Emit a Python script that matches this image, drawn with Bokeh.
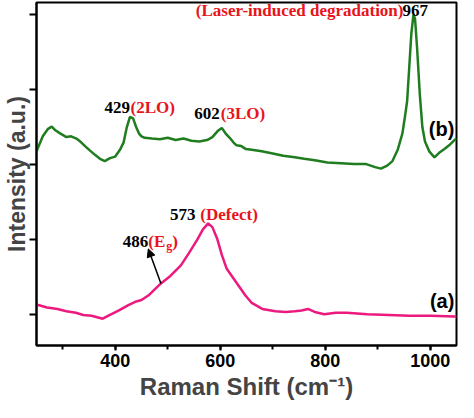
from bokeh.plotting import figure
from bokeh.models import Range1d, FixedTicker, SingleIntervalTicker, Label, Arrow, NormalHead
from bokeh.embed import file_html
from bokeh.resources import INLINE

# ---- data ----
green_x = [250, 262, 272, 279, 286, 295, 307, 316, 326, 335, 344, 352, 362, 371, 380, 390, 400,
           409, 416, 422, 428, 434, 440, 445, 450, 456, 470, 485, 500, 515, 530, 545, 560, 575,
           585, 595, 603, 610, 618, 625, 631, 640, 649, 660, 679, 700, 720, 742, 760, 780, 804,
           830, 855, 878, 895, 906, 918, 928, 938, 947, 952, 956, 960, 964, 968, 971, 975, 980,
           985, 990, 998, 1008, 1017, 1027, 1036, 1046, 1050]
green_y = [2.18, 2.38, 2.48, 2.51, 2.46, 2.42, 2.37, 2.38, 2.35, 2.30, 2.24, 2.19, 2.13, 2.08,
           2.05, 2.09, 2.11, 2.20, 2.30, 2.50, 2.64, 2.62, 2.50, 2.42, 2.38, 2.36, 2.35, 2.34,
           2.36, 2.33, 2.35, 2.32, 2.31, 2.33, 2.37, 2.45, 2.49, 2.42, 2.36, 2.30, 2.26, 2.25,
           2.21, 2.20, 2.18, 2.15, 2.12, 2.10, 2.08, 2.06, 2.03, 2.02, 2.01, 2.01, 1.97, 1.95,
           1.99, 2.05, 2.20, 2.42, 2.65, 2.85, 3.30, 3.75, 4.00, 3.95, 3.55, 2.95, 2.50, 2.31,
           2.18, 2.10, 2.16, 2.21, 2.26, 2.33, 2.35]

pink_x = [250, 270, 290, 307, 325, 339, 355, 376, 390, 407, 425, 440, 450, 465, 487, 505, 525,
          540, 556, 567, 577, 585, 594, 603, 612, 624, 636, 648, 660, 680, 705, 725, 742, 755,
          767, 780, 798, 820, 841, 880, 921, 960, 1000, 1046, 1050]
pink_y = [0.14, 0.10, 0.08, 0.05, 0.03, 0.00, -0.01, -0.05, 0.00, 0.06, 0.13, 0.18, 0.20, 0.27,
          0.42, 0.52, 0.66, 0.82, 1.00, 1.14, 1.22, 1.17, 1.02, 0.80, 0.62, 0.50, 0.38, 0.26,
          0.16, 0.08, 0.05, 0.04, 0.05, 0.06, 0.08, 0.04, 0.01, 0.03, 0.03, 0.01, 0.00, -0.01,
          -0.01, -0.02, -0.02]

x_ticks = [400, 600, 800, 1000]
y_ticks = [0, 1, 2, 3, 4]

GREEN = "#1f7d1f"
PINK = "#ec1a7e"
RED = "#e8141c"
SERIF = "Liberation Serif"
SANS = "Liberation Sans"

p = figure(width=458, height=402, output_backend="svg", toolbar_location=None,
           x_range=Range1d(250, 1050), y_range=Range1d(-0.407, 4.163),
           min_border_left=34, min_border_right=2, min_border_top=2, min_border_bottom=40)
p.background_fill_color = "white"
p.border_fill_color = "white"
p.xgrid.visible = False
p.ygrid.visible = False
p.outline_line_color = "black"
p.outline_line_width = 2

p.line(green_x, green_y, line_color=GREEN, line_width=2.5)
p.line(pink_x, pink_y, line_color=PINK, line_width=2.5)

# axes
xa = p.xaxis[0]
xa.ticker = SingleIntervalTicker(interval=200, num_minor_ticks=2)
xa.axis_line_width = 2
xa.major_tick_line_width = 2
xa.minor_tick_line_width = 2
xa.major_tick_in = 0
xa.major_tick_out = 5
xa.minor_tick_in = 0
xa.minor_tick_out = 4
xa.major_label_text_font = SANS
xa.major_label_text_font_style = "bold"
xa.major_label_text_font_size = "18px"
xa.major_label_text_color = "black"
xa.major_label_standoff = 3
xa.axis_label = "Raman Shift (cm\u207b\u00b9)"
xa.axis_label_text_font = SANS
xa.axis_label_text_font_style = "bold"
xa.axis_label_text_font_size = "24px"
xa.axis_label_standoff = 3

ya = p.yaxis[0]
ya.ticker = FixedTicker(ticks=y_ticks, minor_ticks=[])
ya.axis_line_width = 2
ya.major_tick_line_width = 2
ya.major_tick_in = 0
ya.major_tick_out = 7
ya.minor_tick_out = 0
ya.minor_tick_in = 0
ya.major_label_text_font_size = "0px"
ya.major_label_text_color = None
ya.major_label_standoff = 0
ya.axis_label = "Intensity (a.u.)"
ya.axis_label_text_font = SANS
ya.axis_label_text_font_style = "bold"
ya.axis_label_text_font_size = "23px"
ya.axis_label_standoff = 0


def lab(x, y, text, color="black", align="left", size="17px", font=SERIF, xo=0, yo=0):
    p.add_layout(Label(x=x, y=y, text=text, text_color=color, text_align=align,
                       text_baseline="middle", text_font=font, text_font_style="bold",
                       text_font_size=size, x_offset=xo, y_offset=yo))


# peak annotations
lab(949, 4.06, "(Laser-induced degradation)", RED, "right")
lab(947, 4.06, "967")
lab(428, 2.77, "429", align="right")
lab(429, 2.77, "(2LO)", RED)
lab(599, 2.68, "602", align="right")
lab(601, 2.68, "(3LO)", RED)
lab(553, 1.34, "573", align="right")
lab(562, 1.34, "(Defect)", RED)
lab(463, 0.98, "486", align="right")
lab(463, 0.98, "(E", RED)
lab(463, 0.98, "g", RED, size="12px", xo=18, yo=-5)
lab(463, 0.98, ")", RED, xo=24)
lab(1046, 2.48, "(b)", align="right", size="20px", font=SANS)
lab(1046, 0.19, "(a)", align="right", size="20px", font=SANS)

p.add_layout(Arrow(x_start=487, y_start=0.42, x_end=463, y_end=0.88,
                   line_color="black", line_width=1.5,
                   end=NormalHead(size=8, fill_color="black", line_color="black")))

open("out.html", "w").write(file_html(p, INLINE))
